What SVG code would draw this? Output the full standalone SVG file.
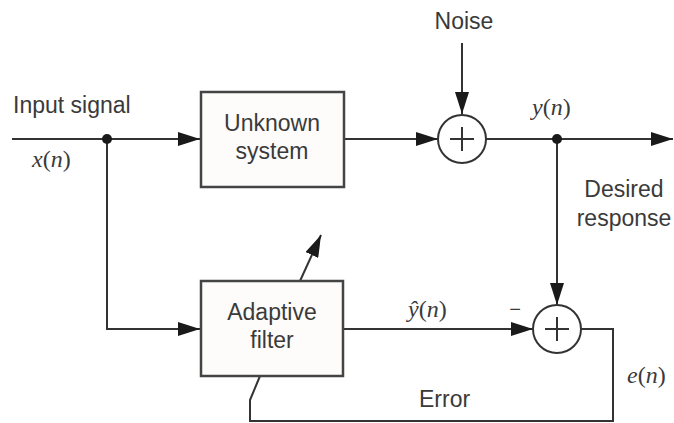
<svg xmlns="http://www.w3.org/2000/svg" width="674" height="423" viewBox="0 0 674 423">
<style>
.ln{fill:none;stroke:#333;stroke-width:2}
.box{fill:#fdfcfa;stroke:#444;stroke-width:2.5}
.sum{fill:#fff;stroke:#333;stroke-width:2}
.plus{stroke:#333;stroke-width:2}
.lbl{font-family:"Liberation Sans",Arial,Helvetica,sans-serif;font-size:23px;fill:#3a3a3a}
.mth{font-family:"Liberation Serif","Times New Roman",serif;font-size:24px;fill:#3a3a3a}
.it{font-style:italic}
</style>
<defs>
<marker id="ah" viewBox="0 0 22 14" markerWidth="22" markerHeight="14" refX="22" refY="7" orient="auto" markerUnits="userSpaceOnUse">
<path d="M0,0 L22,7 L0,14 z" fill="#1a1a1a"/>
</marker>
</defs>
<g id="connectors">
<path class="ln" d="M12,139 H200" marker-end="url(#ah)"/>
<path class="ln" d="M107,139 V329 H200" marker-end="url(#ah)"/>
<path class="ln" d="M344,139 H438" marker-end="url(#ah)"/>
<path class="ln" d="M462,43 V114" marker-end="url(#ah)"/>
<path class="ln" d="M486,139 H673" marker-end="url(#ah)"/>
<path class="ln" d="M557,139 V305" marker-end="url(#ah)"/>
<path class="ln" d="M343,329 H533" marker-end="url(#ah)"/>
<path class="ln" d="M581,329 H613 V421 H250 V400 L260,376"/>
<path class="ln" d="M300,281 L321,235" marker-end="url(#ah)"/>
<circle cx="107" cy="139" r="5" fill="#1a1a1a"/>
<circle cx="557" cy="139" r="5" fill="#1a1a1a"/>
</g>
<g id="unknown-system">
<rect class="box" x="201" y="92" width="143" height="95"/>
<text class="lbl" x="272" y="131" text-anchor="middle">Unknown</text>
<text class="lbl" x="272" y="159" text-anchor="middle">system</text>
</g>
<g id="adaptive-filter">
<rect class="box" x="201" y="281" width="142" height="95"/>
<text class="lbl" x="272" y="320" text-anchor="middle">Adaptive</text>
<text class="lbl" x="272" y="348" text-anchor="middle">filter</text>
</g>
<g id="sum-noise">
<circle class="sum" cx="462" cy="139" r="24"/>
<path class="plus" d="M450,139 H474 M462,127 V151"/>
</g>
<g id="sum-error">
<circle class="sum" cx="557" cy="329" r="24"/>
<path class="plus" d="M545,329 H569 M557,317 V341"/>
</g>
<g id="labels">
<text class="lbl" x="13" y="113">Input signal</text>
<text class="mth" x="32" y="167"><tspan class="it">x</tspan>(<tspan class="it">n</tspan>)</text>
<text class="lbl" x="464" y="29" text-anchor="middle">Noise</text>
<text class="mth" x="532" y="115"><tspan class="it">y</tspan>(<tspan class="it">n</tspan>)</text>
<text class="lbl" x="624" y="197" text-anchor="middle">Desired</text>
<text class="lbl" x="624" y="226" text-anchor="middle">response</text>
<text class="mth" x="408" y="317"><tspan class="it">ŷ</tspan>(<tspan class="it">n</tspan>)</text>
<text class="lbl" x="515" y="316" text-anchor="middle" style="font-size:20px">−</text>
<text class="mth" x="627" y="383"><tspan class="it">e</tspan>(<tspan class="it">n</tspan>)</text>
<text class="lbl" x="419" y="407">Error</text>
</g>
</svg>
